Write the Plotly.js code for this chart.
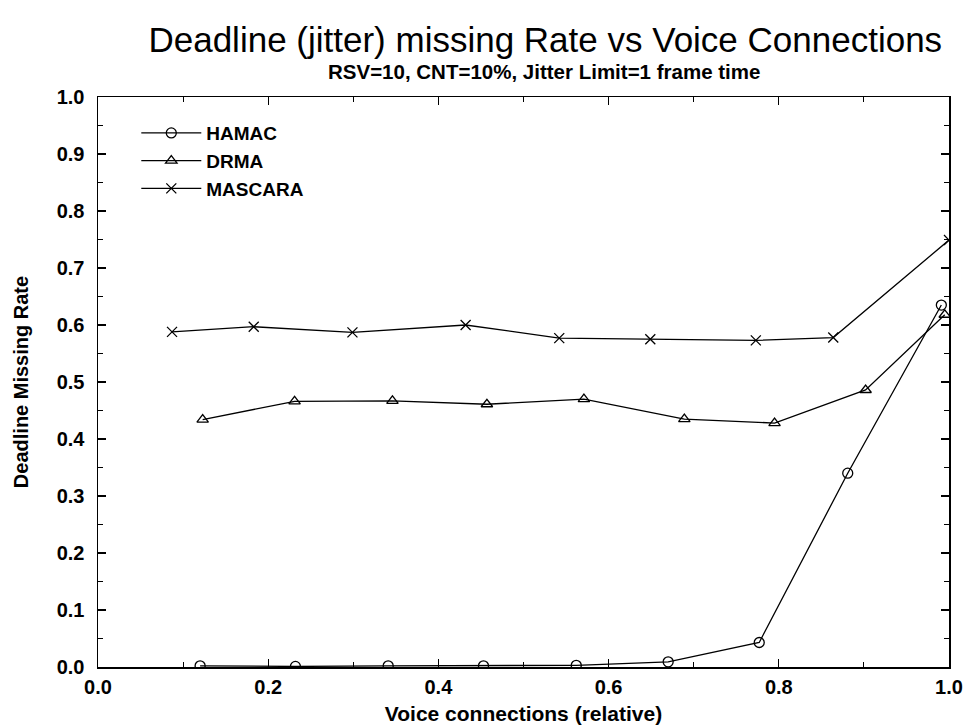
<!DOCTYPE html>
<html>
<head>
<meta charset="utf-8">
<script src="https://cdn.plot.ly/plotly-3.0.1.min.js"></script>
<style>html,body{margin:0;padding:0;background:#fff;}#chart{width:972px;height:728px;}</style>
</head>
<body>
<div id="chart"></div>
<script>
const hamacX = [0.120, 0.232, 0.341, 0.453, 0.562, 0.670, 0.777, 0.881, 0.991];
const hamacY = [0.002, 0.001, 0.002, 0.002, 0.003, 0.009, 0.043, 0.340, 0.635];
const drmaX = [0.123, 0.231, 0.346, 0.457, 0.571, 0.689, 0.795, 0.902, 0.995];
const drmaY = [0.434, 0.466, 0.467, 0.461, 0.470, 0.435, 0.428, 0.486, 0.618];
const mascaraX = [0.087, 0.183, 0.299, 0.432, 0.542, 0.649, 0.773, 0.864, 1.0];
const mascaraY = [0.588, 0.597, 0.587, 0.600, 0.577, 0.575, 0.573, 0.578, 0.749];
const xTicks = [0.0, 0.2, 0.4, 0.6, 0.8, 1.0];
const xTickLabels = ['0.0', '0.2', '0.4', '0.6', '0.8', '1.0'];
const yTicks = [0.0, 0.1, 0.2, 0.3, 0.4, 0.5, 0.6, 0.7, 0.8, 0.9, 1.0];
const yTickLabels = ['0.0', '0.1', '0.2', '0.3', '0.4', '0.5', '0.6', '0.7', '0.8', '0.9', '1.0'];

const F = 'Liberation Sans, Arial, sans-serif';
const line = {color: '#000', width: 1.3};
function tr(name, x, y, sym) {
  return {x: x, y: y, name: name, type: 'scatter', mode: 'lines+markers', line: line,
    cliponaxis: true,
    marker: {symbol: sym, size: 10, color: '#000', line: {color: '#000', width: 1.3}}};
}
const data = [
  tr('HAMAC', hamacX, hamacY, 'circle-open'),
  tr('DRMA', drmaX, drmaY, 'triangle-up-open'),
  tr('MASCARA', mascaraX, mascaraY, 'x-thin-open')
];
const axisCommon = {
  showline: true, linecolor: '#000', linewidth: 1.5, mirror: 'ticks',
  ticks: 'inside', ticklen: 8, tickwidth: 1.3, tickcolor: '#000',
  showgrid: false, zeroline: false,
  tickfont: {family: F, size: 20, color: '#000', weight: 'bold'},
  minor: {ticks: 'inside', ticklen: 5, tickwidth: 1, tickcolor: '#000', showgrid: false}
};
const layout = {
  width: 972, height: 728,
  margin: {l: 98, r: 23, t: 97, b: 61},
  paper_bgcolor: '#fff', plot_bgcolor: '#fff',
  showlegend: true,
  legend: {x: 0.045, y: 0.97, xanchor: 'left', yanchor: 'top', bgcolor: 'rgba(0,0,0,0)',
    font: {family: F, size: 19, color: '#000', weight: 'bold'}, itemwidth: 60, tracegroupgap: 0},
  title: {text: 'Deadline (jitter) missing Rate vs Voice Connections',
    font: {family: F, size: 35, color: '#000'}, x: 0.561, xanchor: 'center', y: 0.945, yanchor: 'middle'},
  annotations: [{text: 'RSV=10, CNT=10%, Jitter Limit=1 frame time', xref: 'paper', yref: 'paper',
    x: 0.524, y: 1.0, yshift: 26, showarrow: false, xanchor: 'center', yanchor: 'middle',
    font: {family: F, size: 20.5, color: '#000', weight: 'bold'}}],
  xaxis: Object.assign({}, axisCommon, {
    range: [0, 1.0], tickvals: xTicks, ticktext: xTickLabels, ticklabelstandoff: 1,
    minor: Object.assign({}, axisCommon.minor, {dtick: 0.1, tick0: 0}),
    title: {text: 'Voice connections (relative)', font: {family: F, size: 21, color: '#000', weight: 'bold'}, standoff: 10}
  }),
  yaxis: Object.assign({}, axisCommon, {
    range: [0, 1.0], tickvals: yTicks, ticktext: yTickLabels, ticklabelstandoff: 8,
    minor: Object.assign({}, axisCommon.minor, {dtick: 0.05, tick0: 0}),
    title: {text: 'Deadline Missing Rate', font: {family: F, size: 20, color: '#000', weight: 'bold'}, standoff: 22}
  })
};
Plotly.newPlot('chart', data, layout, {displayModeBar: false, staticPlot: true});
</script>
</body>
</html>
